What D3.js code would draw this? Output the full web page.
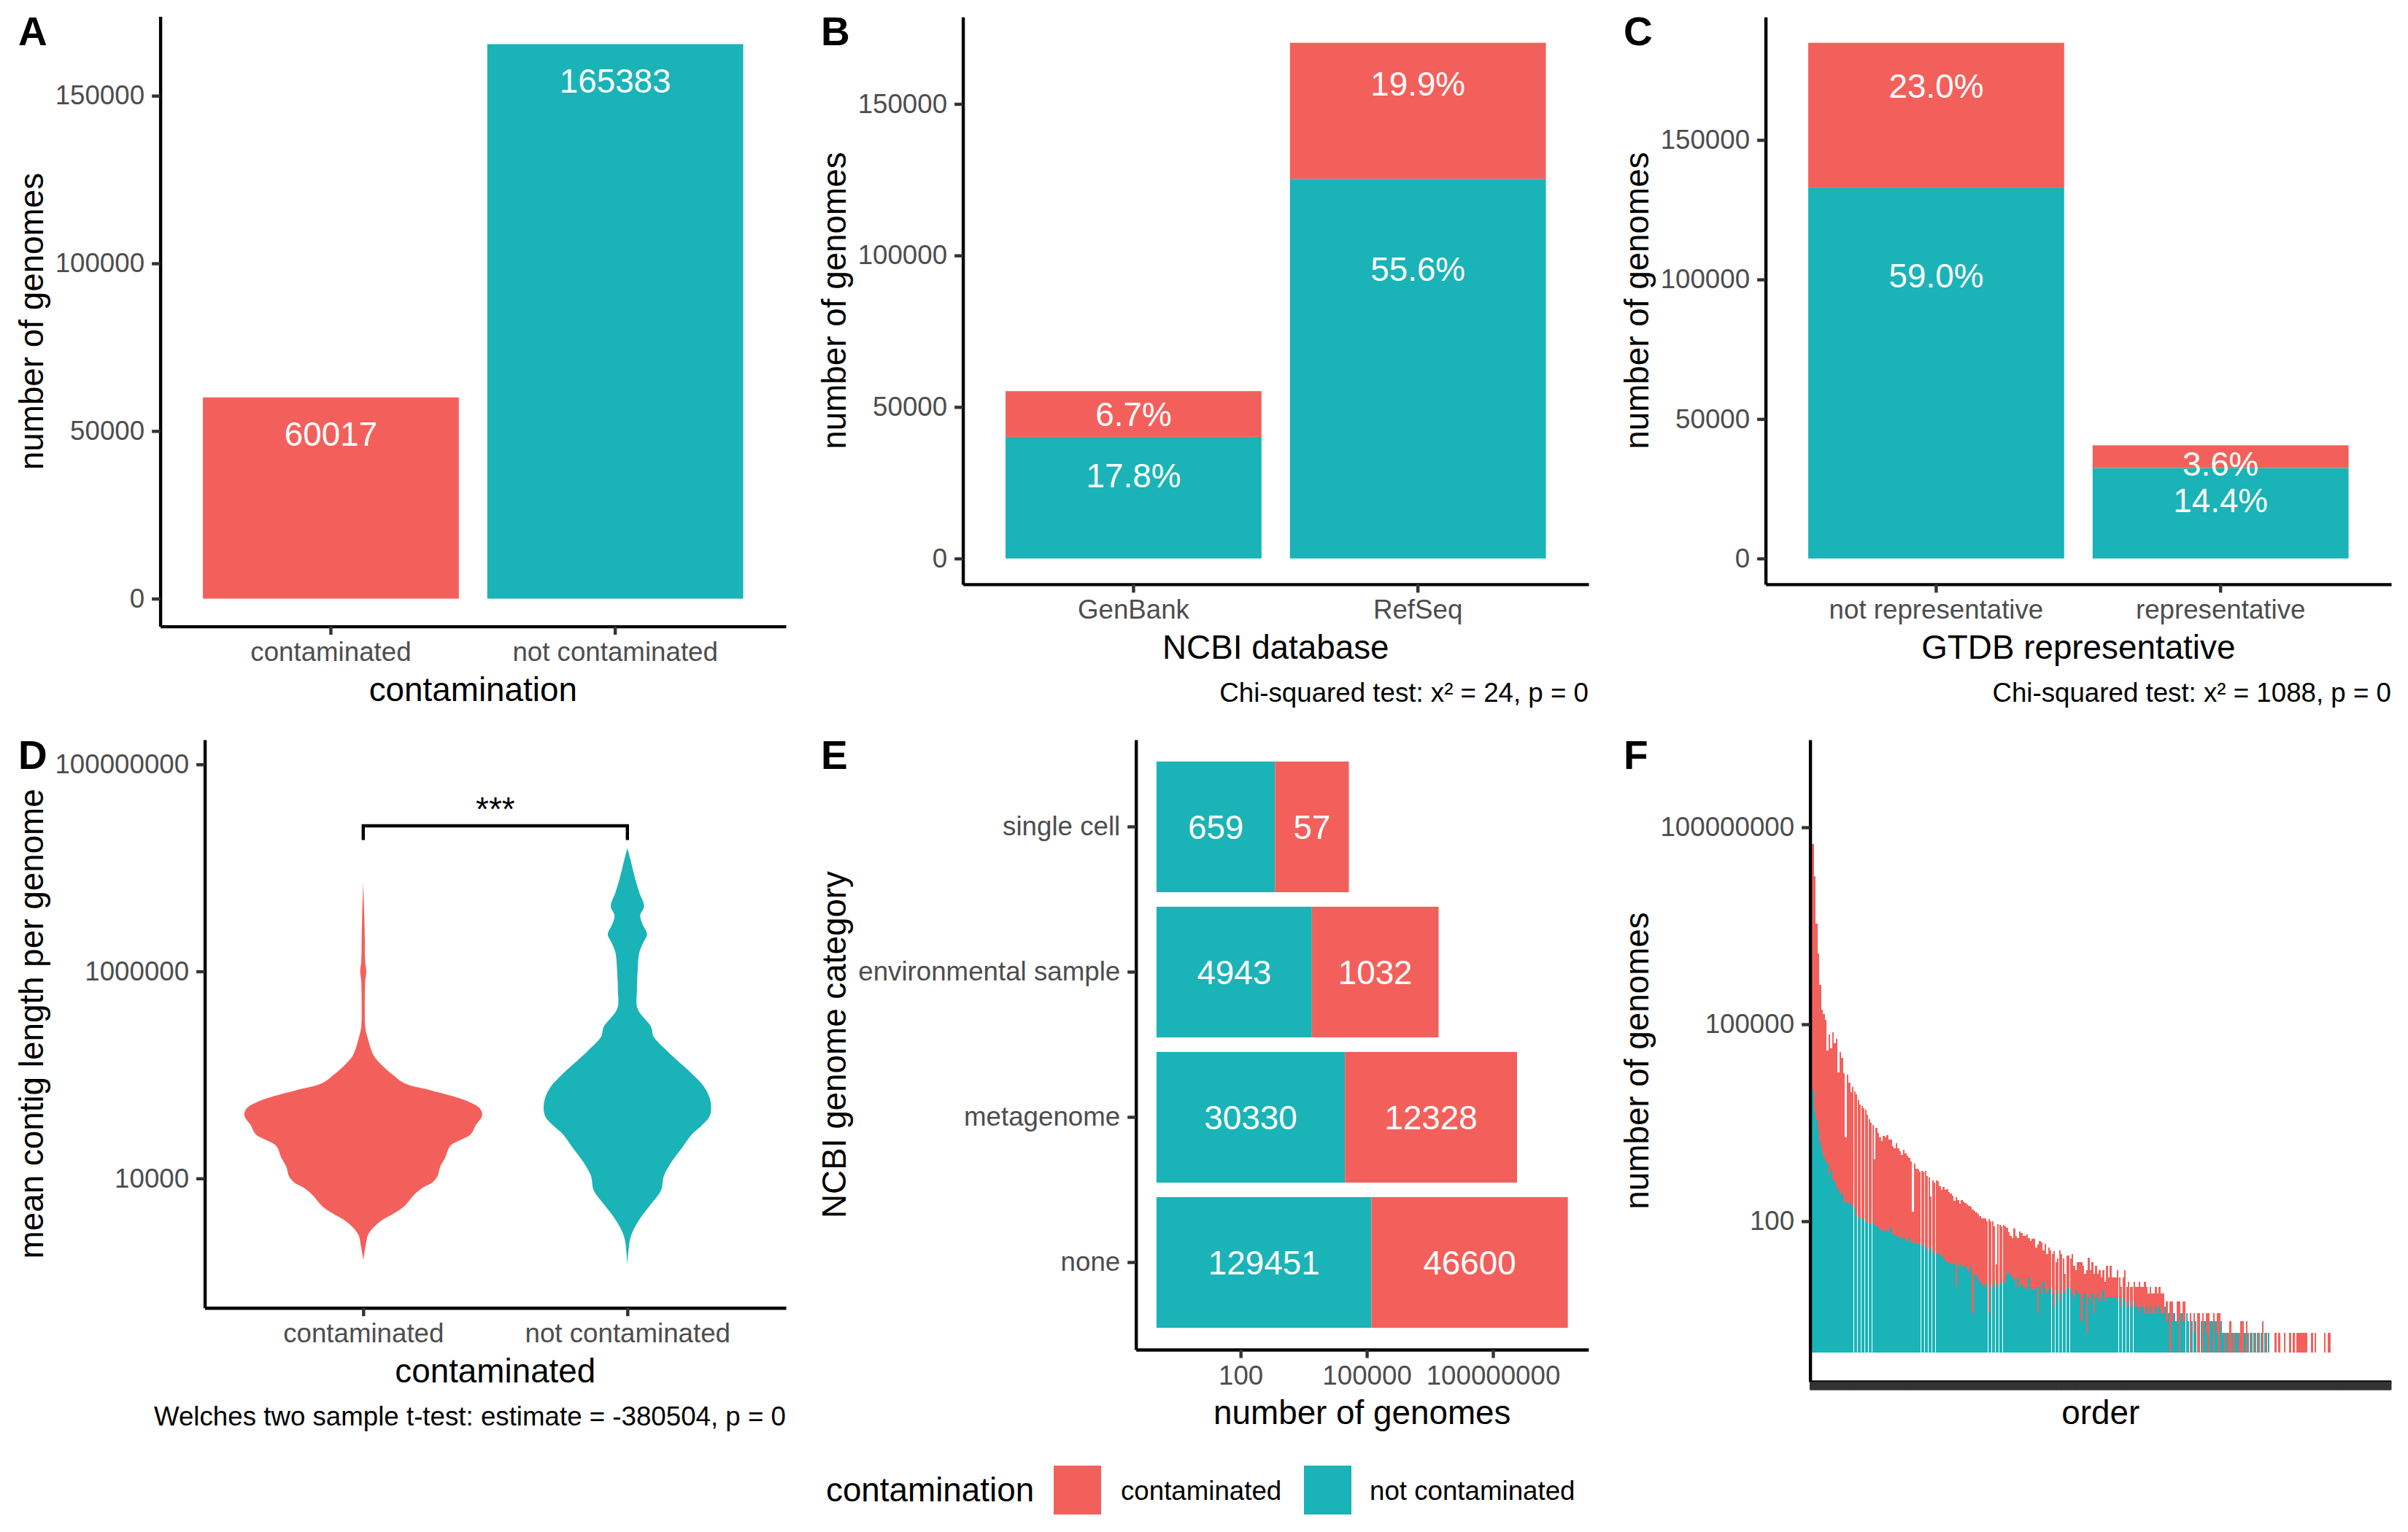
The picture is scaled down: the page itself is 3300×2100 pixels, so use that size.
<!DOCTYPE html>
<html>
<head>
<meta charset="utf-8">
<script src="https://cdn.jsdelivr.net/npm/d3@7"></script>
<style>
  html, body { margin: 0; padding: 0; background: #fff; }
  svg { display: block; }
</style>
</head>
<body>
<svg id="chart" width="3300" height="2100"></svg>
<script>
// ---------------- DATA ----------------
const contaminationLevels = ["contaminated", "not contaminated"];
const contaminationCounts = [60017, 165383];

const databaseCategories = ["GenBank", "RefSeq"];
const databaseContaminated = [15102, 44915];
const databaseNotContaminated = [40121, 125262];
const databaseCaption = "Chi-squared test: x\u00B2 = 24, p = 0";

const gtdbCategories = ["not representative", "representative"];
const gtdbContaminated = [51903, 8114];
const gtdbNotContaminated = [132925, 32458];
const gtdbCaption = "Chi-squared test: x\u00B2 = 1088, p = 0";

// violin profiles (log10 mean contig length, relative density)
const violinContaminatedLog10 = [3.213, 3.35, 3.461, 3.573, 3.663, 3.730, 3.843, 3.910, 3.96, 4.022, 4.112, 4.202, 4.315, 4.382, 4.427, 4.517, 4.607, 4.674, 4.742, 4.787, 4.854, 4.921, 5.011, 5.101, 5.191, 5.371, 5.461, 5.640, 5.85, 5.91, 6.0, 6.09, 6.315, 6.539, 6.854];
const violinContaminatedDensity = [0, 0.02, 0.043, 0.13, 0.26, 0.345, 0.43, 0.50, 0.58, 0.625, 0.647, 0.69, 0.733, 0.84, 0.905, 0.948, 1.0, 0.983, 0.884, 0.776, 0.56, 0.345, 0.237, 0.15, 0.086, 0.034, 0.017, 0.013, 0.015, 0.017, 0.026, 0.017, 0.013, 0.009, 0];
const violinNotContaminatedLog10 = [3.169, 3.40, 3.483, 3.618, 3.753, 3.888, 4.022, 4.157, 4.292, 4.427, 4.517, 4.607, 4.742, 4.876, 5.011, 5.101, 5.236, 5.371, 5.461, 5.640, 5.820, 6.000, 6.180, 6.270, 6.360, 6.449, 6.539, 6.629, 6.764, 6.899, 7.079, 7.191];
const violinNotContaminatedDensity = [0, 0.02, 0.043, 0.11, 0.2, 0.284, 0.306, 0.37, 0.457, 0.543, 0.63, 0.694, 0.70, 0.65, 0.543, 0.457, 0.33, 0.22, 0.2, 0.085, 0.08, 0.086, 0.10, 0.13, 0.165, 0.13, 0.108, 0.14, 0.10, 0.065, 0.026, 0];
const contigAxisLimits = [562, 1.73e8];
const contigTicks = [10000, 1000000, 100000000];
const significanceBracket = [2.55e7, 1.86e7]; // bracket level, tip end
const significanceLabel = "***";
const contigCaption = "Welches two sample t-test: estimate = -380504, p = 0";

const genomeCategories = ["single cell", "environmental sample", "metagenome", "none"];
const categoryNotContaminated = [659, 4943, 30330, 129451];
const categoryContaminated = [57, 1032, 12328, 46600];
const logTicks = [100, 100000, 100000000];

const speciesNotContaminated = [
  25000, 10000, 4800, 3500, 2500, 1600, 1200, 950, 830, 780,
  520, 600, 430, 400, 330, 310, 250, 270, 200, 190,
  205, 180, 190, 165, 160, 125, 112, 115, 110, 105,
  100, 95, 91, 93, 98, 87, 85, 79, 76, 72,
  72, 76, 68, 71, 79, 63, 62, 62, 59, 56,
  54, 58, 52, 50, 55, 48, 47, 50, 45, 44,
  47, 42, 44, 42, 38, 36, 40, 35, 32, 32,
  34, 31, 30, 28, 25, 24, 23, 22, 22, 23,
  10, 21, 23, 21, 20, 21, 18, 17, 21, 4,
  16, 15, 13, 12, 11, 10, 11, 11, 4, 10,
  10, 12, 11, 10, 11, 12, 11, 12, 16, 17,
  15, 14, 13, 10, 14, 10, 11, 10, 10, 9,
  14, 10, 9, 9, 10, 4, 10, 8, 12, 9,
  8, 10, 9, 8, 5, 8, 9, 6, 8, 9,
  8, 10, 10, 9, 8, 7, 9, 8, 8, 3,
  7, 8, 2, 7, 6, 8, 4, 7, 8, 6,
  7, 9, 6, 7, 7, 7, 7, 7, 7, 6,
  7, 5, 7, 6, 5, 6, 5, 5, 6, 5,
  5, 4, 5, 5, 4, 5, 4, 5, 4, 4,
  5, 4, 5, 4, 4, 5, 3, 4, 1, 3,
  4, 3, 3, 1, 4, 3, 3, 4, 3, 1,
  3, 2, 3, 1, 1, 3, 1, 3, 2, 1,
  3, 3, 1, 3, 2, 1, 3, 2, 1, 2,
  1, 1, 2, 1, 2, 2, 1, 1, 1, 2,
  1, 2, 1, 2, 2, 1, 2, 1, 2, 1,
  2, 1, 2, 1, 1, 1, 1, 1, 1, 1,
  1, 1, 1, 1, 1, 1, 1, 1, 1, 1,
  1, 1, 1, 1, 1, 1, 1, 1, 1, 1,
  1, 1, 1, 1, 1, 1, 1, 1, 1, 1,
  1, 1, 1, 1, 1, 1, 1, 1, 1, 1,
  1, 1, 1, 1, 1, 1, 1, 1, 1, 1,
  1, 1, 1, 1, 1, 1, 1, 1, 1, 1
];
const speciesContaminated = [
  31000, 5600, 3800, 980, 480, 250, 140, 150, 140, 51,
  135, 71, 175, 130, 180, 59, 150, 115, 91, 10,
  83, 71, 49, 68, 60, 69, 63, 52, 52, 50,
  50, 44, 40, 34, 30, 10, 31, 28, 25, 23,
  28, 25, 30, 25, 22, 22, 21, 25, 22, 21,
  19, 21, 21, 20, 17, 17, 3, 15, 14, 14,
  12, 14, 13, 14, 13, 13, 6, 12, 12, 13,
  12, 11, 10, 12, 12, 13, 12, 12, 11, 9,
  23, 10, 8, 10, 10, 9, 10, 10, 8, 38,
  9, 9, 10, 10, 10, 11, 10, 9, 27, 10,
  10, 7, 2, 9, 8, 7, 8, 7, 5, 4,
  4, 4, 6, 6, 4, 7, 6, 6, 6, 7,
  4, 5, 6, 6, 4, 11, 5, 6, 3, 5,
  4, 4, 4, 4, 7, 3, 3, 6, 4, 3,
  2, 3, 3, 3, 4, 3, 2, 3, 3, 8,
  3, 2, 9, 4, 3, 3, 4, 3, 2, 3,
  2, 2, 2, 3, 2, 3, 2, 2, 2, 3,
  2, 2, 2, 3, 2, 2, 2, 2, 2, 2,
  2, 3, 2, 2, 3, 2, 2, 2, 2, 2,
  2, 2, 2, 2, 2, 1, 2, 1, 6, 2,
  1, 1, 2, 6, 1, 2, 2, 1, 1, 4,
  1, 2, 1, 4, 4, 1, 4, 1, 2, 4,
  1, 1, 4, 1, 2, 4, 1, 1, 2, 1,
  2, 3, 1, 2, 1, 1, 2, 3, 3, 1,
  3, 1, 2, 1, 1, 2, 1, 2, 1, 3,
  1, 2, 1, 1, 1, 1, 2, 1, 2, 1,
  1, 2, 1, 1, 2, 1, 2, 1, 2, 2,
  2, 2, 2, 2, 1, 1, 2, 1, 2, 1,
  1, 1, 1, 2, 1, 2, 2, 1, 1, 1,
  1, 1, 1, 1, 1, 1, 1, 1, 1, 1,
  1, 1, 1, 1, 1, 1, 1, 1, 1, 1,
  1, 1, 1, 1, 1, 1, 1, 1, 1, 1
];

// ---------------- STYLE ----------------
const FONT = '"Liberation Sans", Arial, Helvetica, sans-serif';
const RED = "#F3605B", TEAL = "#1AB3B7";
const FS_TICK = 36.7, FS_TITLE = 45.8, FS_TAG = 55, FS_LABEL = 45.8;
const LW = 4.4, TICK = 11.5, PAD = 10;
const fillOf = lvl => lvl === "contaminated" ? RED : TEAL;

const svg = d3.select("#chart");
svg.append("rect").attr("width", 3300).attr("height", 2100).attr("fill", "#fff");

function txt(x, y, s, o = {}) {
  const t = svg.append("text").attr("x", x).attr("y", y).text(s)
    .attr("font-family", FONT).attr("font-size", o.size || FS_TITLE)
    .attr("fill", o.fill || "#000").attr("text-anchor", o.anchor || "start");
  if (o.weight) t.attr("font-weight", o.weight);
  return t;
}
function yTitle(p, s) {
  svg.append("text")
    .attr("transform", `translate(${p.left + 58.5},${(p.y0 + p.y1) / 2}) rotate(-90)`)
    .attr("text-anchor", "middle").attr("font-family", FONT)
    .attr("font-size", FS_TITLE).attr("fill", "#000").text(s);
}
function xTitle(p, s, off) {
  txt((p.x0 + p.x1) / 2, p.y1 + off, s, { anchor: "middle" });
}
function styleAxis(g) {
  g.attr("font-family", FONT).attr("font-size", FS_TICK);
  g.select(".domain").attr("stroke", "#000").attr("stroke-width", LW).attr("fill", "none");
  g.selectAll(".tick line").attr("stroke", "#333333").attr("stroke-width", LW);
  g.selectAll(".tick text").attr("fill", "#4D4D4D");
  return g;
}
function bottomAxis(p, scale, cfg) {
  let ax = d3.axisBottom(scale).tickSizeInner(TICK).tickSizeOuter(0).tickPadding(PAD);
  if (cfg) ax = cfg(ax);
  return styleAxis(svg.append("g").attr("transform", `translate(0,${p.y1})`).call(ax));
}
function leftAxis(p, scale, cfg) {
  let ax = d3.axisLeft(scale).tickSizeInner(TICK).tickSizeOuter(0).tickPadding(PAD);
  if (cfg) ax = cfg(ax);
  return styleAxis(svg.append("g").attr("transform", `translate(${p.x0},0)`).call(ax));
}
function tag(p, s, top) {
  txt(p.left + 25, top, s, { size: FS_TAG, weight: "bold" });
}
const intFmt = d3.format("d");

// ---------------- PANEL A ----------------
const pA = { left: 0, x0: 219.6, x1: 1077, y0: 22.5, y1: 858.6 };
{
  const x = d3.scaleBand().domain(contaminationLevels).range([pA.x0, pA.x1]).paddingInner(0.1).paddingOuter(0.15);
  const m = d3.max(contaminationCounts);
  const y = d3.scaleLinear().domain([-0.05 * m, 1.05 * m]).range([pA.y1, pA.y0]);
  const data = contaminationLevels.map((l, i) => ({ l, v: contaminationCounts[i] }));
  svg.append("g").selectAll("rect").data(data).join("rect")
    .attr("x", d => x(d.l)).attr("width", x.bandwidth())
    .attr("y", d => y(d.v)).attr("height", d => y(0) - y(d.v))
    .attr("fill", d => fillOf(d.l));
  svg.append("g").selectAll("text").data(data).join("text")
    .attr("x", d => x(d.l) + x.bandwidth() / 2).attr("y", d => y(d.v) + 66)
    .attr("text-anchor", "middle").attr("font-family", FONT).attr("font-size", FS_LABEL)
    .attr("fill", "#fff").text(d => d.v);
  leftAxis(pA, y, a => a.tickValues([0, 50000, 100000, 150000]).tickFormat(intFmt));
  bottomAxis(pA, x);
  xTitle(pA, "contamination", 102);
  yTitle(pA, "number of genomes");
  tag(pA, "A", 62);
}

// ---------------- PANELS B & C ----------------
function stackedPanel(p, cats, cont, notc, title, caption, letter) {
  const x = d3.scaleBand().domain(cats).range([p.x0, p.x1]).paddingInner(0.1).paddingOuter(0.15);
  const totals = cats.map((c, i) => cont[i] + notc[i]);
  const m = d3.max(totals);
  const grand = d3.sum(totals);
  const y = d3.scaleLinear().domain([-0.05 * m, 1.05 * m]).range([p.y1, p.y0]);
  const segs = [];
  cats.forEach((c, i) => {
    segs.push({ c, lvl: "not contaminated", lo: 0, hi: notc[i], v: notc[i] });
    segs.push({ c, lvl: "contaminated", lo: notc[i], hi: totals[i], v: cont[i] });
  });
  svg.append("g").selectAll("rect").data(segs).join("rect")
    .attr("x", d => x(d.c)).attr("width", x.bandwidth())
    .attr("y", d => y(d.hi)).attr("height", d => y(d.lo) - y(d.hi))
    .attr("fill", d => fillOf(d.lvl));
  svg.append("g").selectAll("text").data(segs).join("text")
    .attr("x", d => x(d.c) + x.bandwidth() / 2)
    .attr("y", d => y(d.hi - 0.2 * d.v) + 35.4)
    .attr("text-anchor", "middle").attr("font-family", FONT).attr("font-size", FS_LABEL)
    .attr("fill", "#fff").text(d => (100 * d.v / grand).toFixed(1) + "%");
  leftAxis(p, y, a => a.tickValues([0, 50000, 100000, 150000]).tickFormat(intFmt));
  bottomAxis(p, x);
  xTitle(p, title, 102);
  yTitle(p, "number of genomes");
  txt(p.x1, 962, caption, { size: FS_TICK, anchor: "end" });
  tag(p, letter, 62);
}
const pB = { left: 1100, x0: 1319.6, x1: 2177, y0: 23.3, y1: 800.9 };
const pC = { left: 2200, x0: 2419.6, x1: 3277, y0: 23.3, y1: 800.9 };
stackedPanel(pB, databaseCategories, databaseContaminated, databaseNotContaminated, "NCBI database", databaseCaption, "B");
stackedPanel(pC, gtdbCategories, gtdbContaminated, gtdbNotContaminated, "GTDB representative", gtdbCaption, "C");

// ---------------- PANEL D ----------------
const pD = { left: 0, x0: 280.6, x1: 1077, y0: 1014, y1: 1792.7 };
{
  const x = d3.scalePoint().domain(contaminationLevels).range([pD.x0, pD.x1]).padding(0.6);
  const y = d3.scaleLog().domain(contigAxisLimits).range([pD.y1, pD.y0]);
  const w = d3.scaleLinear().domain([0, 1]).range([0, 0.45 * x.step()]);
  const profiles = [
    { l: "contaminated", logs: violinContaminatedLog10, dens: violinContaminatedDensity },
    { l: "not contaminated", logs: violinNotContaminatedLog10, dens: violinNotContaminatedDensity }
  ];
  profiles.forEach(pr => {
    const cx = x(pr.l);
    const pts = pr.logs.map((v, i) => [v, pr.dens[i]]);
    const area = d3.area().curve(d3.curveCatmullRom.alpha(0.5))
      .y(d => y(Math.pow(10, d[0])))
      .x0(d => cx - w(d[1])).x1(d => cx + w(d[1]));
    svg.append("path").attr("d", area(pts)).attr("fill", fillOf(pr.l));
  });
  const c1 = x(contaminationLevels[0]), c2 = x(contaminationLevels[1]);
  const yb = y(significanceBracket[0]), yt = y(significanceBracket[1]);
  svg.append("path").attr("d", `M${c1},${yt}V${yb}H${c2}V${yt}`)
    .attr("fill", "none").attr("stroke", "#000").attr("stroke-width", LW);
  txt((c1 + c2) / 2, yb - 7, significanceLabel, { anchor: "middle" });
  leftAxis(pD, y, a => a.tickValues(contigTicks).tickFormat(intFmt));
  bottomAxis(pD, x);
  xTitle(pD, "contaminated", 102);
  yTitle(pD, "mean contig length per genome");
  txt(pD.x1, 1954, contigCaption, { size: FS_TICK, anchor: "end" });
  tag(pD, "D", 1054);
}

// ---------------- PANEL E ----------------
const pE = { left: 1100, x0: 1556.7, x1: 2176.8, y0: 1014, y1: 1850 };
{
  const y = d3.scaleBand().domain(genomeCategories).range([pE.y0, pE.y1]).paddingInner(0.1).paddingOuter(0.15);
  const prods = genomeCategories.map((c, i) => categoryNotContaminated[i] * categoryContaminated[i]);
  const R = Math.log10(d3.max(prods));
  const x = d3.scaleLog().domain([Math.pow(10, -0.05 * R), Math.pow(10, 1.05 * R)]).range([pE.x0, pE.x1]);
  const segs = [];
  genomeCategories.forEach((c, i) => {
    const n = categoryNotContaminated[i], k = categoryContaminated[i];
    segs.push({ c, lvl: "not contaminated", lo: 1, hi: n, mid: Math.sqrt(n), v: n });
    segs.push({ c, lvl: "contaminated", lo: n, hi: n * k, mid: n * Math.sqrt(k), v: k });
  });
  svg.append("g").selectAll("rect").data(segs).join("rect")
    .attr("y", d => y(d.c)).attr("height", y.bandwidth())
    .attr("x", d => x(d.lo)).attr("width", d => x(d.hi) - x(d.lo))
    .attr("fill", d => fillOf(d.lvl));
  svg.append("g").selectAll("text").data(segs).join("text")
    .attr("x", d => x(d.mid)).attr("y", d => y(d.c) + y.bandwidth() / 2 + 16.4)
    .attr("text-anchor", "middle").attr("font-family", FONT).attr("font-size", FS_LABEL)
    .attr("fill", "#fff").text(d => d.v);
  leftAxis(pE, y);
  bottomAxis(pE, x, a => a.tickValues(logTicks).tickFormat(intFmt));
  xTitle(pE, "number of genomes", 102);
  yTitle(pE, "NCBI genome category");
  tag(pE, "E", 1054);
}

// ---------------- PANEL F ----------------
const pF = { left: 2200, x0: 2480.6, x1: 3276.8, y0: 1014, y1: 1894 };
{
  const ranks = speciesNotContaminated.map((_, i) => i + 1);
  const x = d3.scaleBand().domain(ranks).range([pF.x0, pF.x1]).paddingInner(0.06).paddingOuter(0.15);
  const prods = speciesNotContaminated.map((n, i) => n * speciesContaminated[i]);
  const R = Math.log10(d3.max(prods));
  const y = d3.scaleLog().domain([Math.pow(10, -0.05 * R), Math.pow(10, 1.05 * R)]).range([pF.y1, pF.y0]);
  const segs = [];
  ranks.forEach((r, i) => {
    const n = speciesNotContaminated[i], k = speciesContaminated[i];
    if (n > 1) segs.push({ r, lvl: "not contaminated", lo: 1, hi: n });
    if (k > 1) segs.push({ r, lvl: "contaminated", lo: n, hi: n * k });
  });
  svg.append("g").attr("shape-rendering", "crispEdges")
    .selectAll("rect").data(segs).join("rect")
    .attr("x", d => x(d.r)).attr("width", x.bandwidth())
    .attr("y", d => y(d.hi)).attr("height", d => y(d.lo) - y(d.hi))
    .attr("fill", d => fillOf(d.lvl));
  leftAxis(pF, y, a => a.tickValues(logTicks).tickFormat(intFmt));
  bottomAxis(pF, x, a => a.tickFormat(() => ""));
  txt((pF.x0 + pF.x1) / 2, 1952, "order", { anchor: "middle" });
  yTitle(pF, "number of genomes");
  tag(pF, "F", 1054);
}

// ---------------- LEGEND ----------------
{
  txt(1132, 2058, "contamination", { size: FS_TITLE });
  const keys = [
    { l: contaminationLevels[0], kx: 1444, tx: 1536 },
    { l: contaminationLevels[1], kx: 1787, tx: 1877 }
  ];
  keys.forEach(k => {
    svg.append("rect").attr("x", k.kx).attr("y", 2009).attr("width", 65).attr("height", 67).attr("fill", fillOf(k.l));
    txt(k.tx, 2056, k.l, { size: FS_TICK });
  });
}
</script>
</body>
</html>
